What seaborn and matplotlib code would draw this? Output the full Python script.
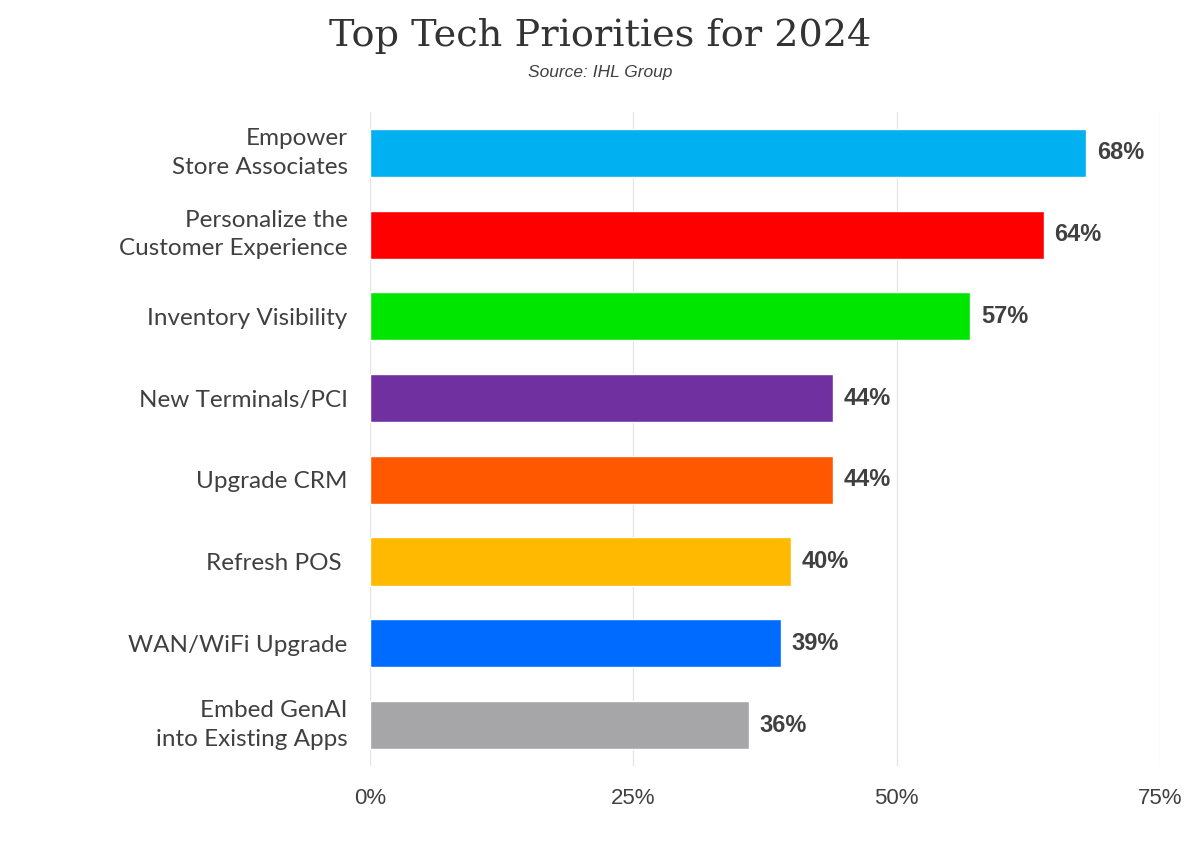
import matplotlib
matplotlib.use("Agg")
import matplotlib.pyplot as plt
import seaborn as sns
import pandas as pd

categories = ["Empower\nStore Associates", "Personalize the\nCustomer Experience",
              "Inventory Visibility", "New Terminals/PCI", "Upgrade CRM",
              "Refresh POS ", "WAN/WiFi Upgrade", "Embed GenAI\ninto Existing Apps"]
values = [68, 64, 57, 44, 44, 40, 39, 36]
colors = ["#00B0F0", "#FF0000", "#00E600", "#7030A0", "#FF5800",
          "#FFB900", "#006CFF", "#A6A6A8"]
xticks = [0, 25, 50, 75]
xtick_labels = ["0%", "25%", "50%", "75%"]

sns.set_theme(style="white")
plt.rcParams['font.family'] = ['Lato', 'DejaVu Sans']

df = pd.DataFrame({"cat": categories, "val": values})

fig = plt.figure(figsize=(12, 8.65), dpi=100)
ax = fig.add_axes([0.3083, 0.1145, 0.6583, 0.756])

sns.barplot(data=df, y="cat", x="val", hue="cat", palette=colors,
            order=categories, hue_order=categories, legend=False,
            width=0.59, saturation=1, ax=ax, zorder=3)

ax.set_xlim(0, 75)
ax.set_ylim(7.5, -0.5)
ax.set_xticks(xticks)
ax.set_xticklabels(xtick_labels, fontsize=16, color="#404040",
                   family=["Liberation Sans", "DejaVu Sans"])
ax.tick_params(axis="x", length=0, pad=16)
ax.tick_params(axis="y", length=0, pad=16)
for lbl in ax.get_yticklabels():
    lbl.set_fontsize(17.5)
    lbl.set_color("#404040")
    lbl.set_horizontalalignment("right")
    lbl.set_multialignment("right")
    lbl.set_linespacing(1.45)
    if "\n" in lbl.get_text():
        lbl.set_verticalalignment("center")
ax.set_xlabel("")
ax.set_ylabel("")
ax.grid(axis="x", color="#e4e4e4", linewidth=0.9, zorder=0)
ax.grid(axis="y", visible=False)
for s in ax.spines.values():
    s.set_visible(False)

for i, v in enumerate(values):
    ax.text(v + 1.0, i, f"{v}%", va="center", ha="left", fontsize=17,
            fontweight="bold", color="#404040",
            family=["Liberation Sans", "DejaVu Sans"])

fig.text(0.5, 0.958, "Top Tech Priorities for 2024", ha="center", va="center",
         fontsize=27.5, color="#333333", family=["DejaVu Serif"])
fig.text(0.5, 0.916, "Source: IHL Group", ha="center", va="center",
         fontsize=12.5, style="italic", color="#404040",
         family=["Liberation Sans", "DejaVu Sans"])

fig.savefig("out.png", dpi=100, facecolor="white")
